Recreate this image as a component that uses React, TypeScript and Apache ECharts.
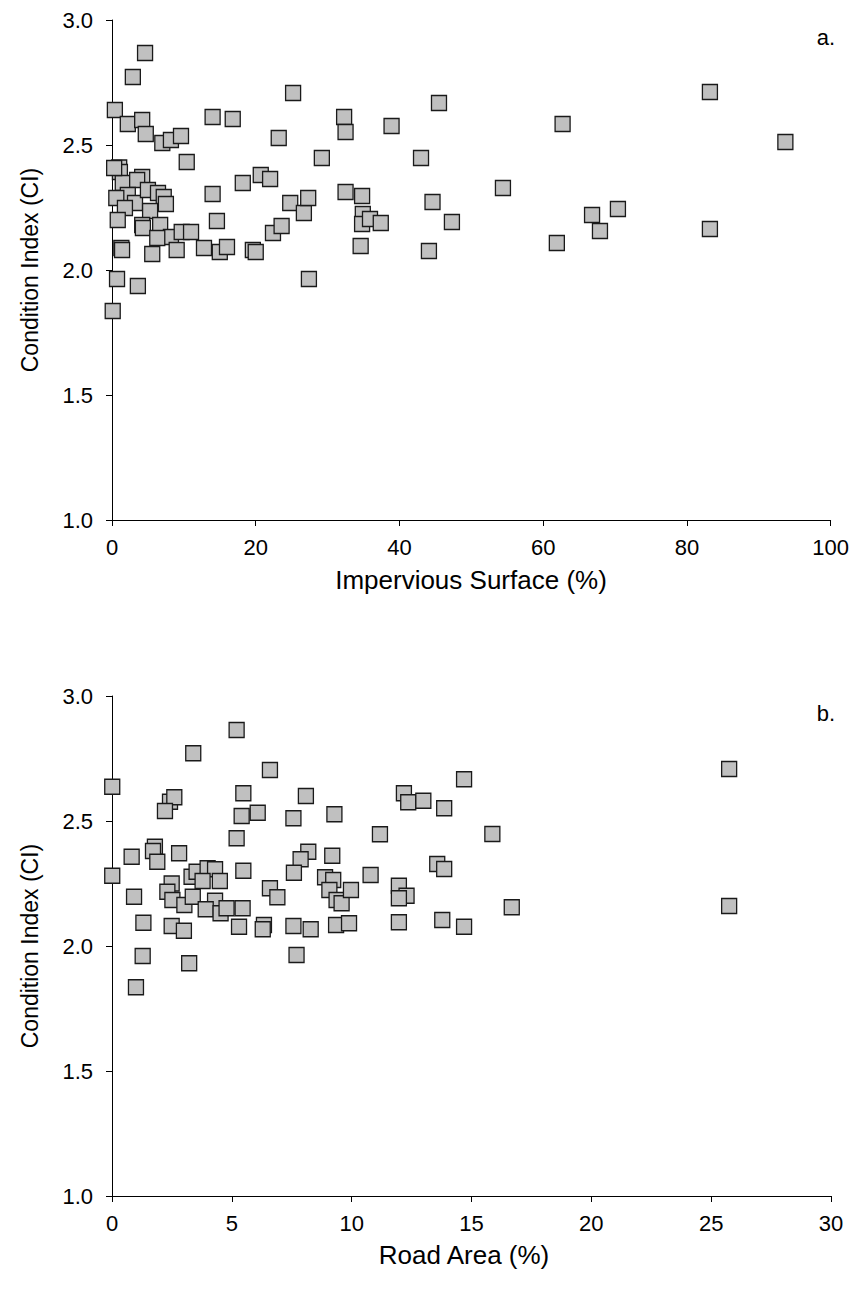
import React, { useEffect, useRef } from "react";
import * as echarts from "echarts";

// Panel a: Impervious Surface (%) vs Condition Index (CI)
const imperviousPct = [
  4.6, 2.9, 0.4, 2.2, 4.2, 4.7, 7.0, 8.2, 9.6, 10.4, 14.0, 16.8, 25.2, 23.2, 29.2, 32.3, 32.5, 38.9, 45.5, 62.7, 43.0, 83.2, 93.7, 54.4,
  1.0, 1.1, 1.5, 4.2, 3.5, 2.2, 0.6, 3.2, 5.0, 6.4, 7.2, 7.5, 1.8, 5.3, 0.8, 4.2, 4.3, 6.7, 8.2, 6.3, 9.7, 11.0, 1.3, 1.4, 5.6, 9.0,
  12.8, 14.0, 14.6, 15.0, 16.0, 18.2, 19.6, 20.0, 20.7, 22.0, 22.4, 23.6, 24.8, 26.7, 27.3, 32.5, 34.8, 34.9, 34.8, 35.9, 37.4, 44.6,
  47.3, 34.6, 44.1, 61.9, 66.8, 67.9, 70.4, 83.2, 0.3,
  0.7, 3.6, 0.1, 27.4,
];
const ciA = [
  2.868, 2.772, 2.64, 2.584, 2.6, 2.544, 2.508, 2.52, 2.536, 2.432, 2.612, 2.604, 2.708, 2.528, 2.448, 2.612, 2.552, 2.576, 2.668, 2.584, 2.448, 2.712, 2.512, 2.328,
  2.41, 2.392, 2.348, 2.372, 2.36, 2.3, 2.288, 2.268, 2.32, 2.308, 2.292, 2.264, 2.248, 2.236, 2.2, 2.18, 2.168, 2.18, 2.132, 2.128, 2.152, 2.152, 2.088, 2.08, 2.064, 2.08,
  2.088, 2.304, 2.196, 2.072, 2.092, 2.348, 2.08, 2.072, 2.38, 2.364, 2.148, 2.176, 2.268, 2.228, 2.288, 2.312, 2.296, 2.224, 2.184, 2.204, 2.188, 2.272,
  2.192, 2.096, 2.076, 2.108, 2.22, 2.156, 2.244, 2.164, 2.408,
  1.964, 1.936, 1.836, 1.964,
];

// Panel b: Road Area (%) vs Condition Index (CI)
const roadPct = [
  5.2, 3.39, 6.59, 0.01, 5.48, 8.09, 2.42, 2.6, 2.21, 5.41, 6.08, 7.57, 9.28, 5.2, 0.82, 1.79, 1.71, 1.89, 2.8, 8.19,
  7.87, 9.19, 0.01, 5.48, 7.59, 0.92, 2.49, 2.31, 2.52, 3.02, 3.37, 3.32, 3.53, 3.99, 4.3, 3.78, 4.5, 4.3, 3.91, 4.53,
  4.78, 5.45, 6.59, 6.9, 5.3, 1.31, 2.49, 3.0, 6.34, 6.29, 7.57, 8.29, 8.89, 9.23, 9.07, 9.37, 9.58, 9.97, 9.35, 9.89,
  14.69, 12.18, 12.36, 12.99, 13.86, 11.18, 15.87, 10.79, 13.57, 13.86, 11.97, 12.29, 11.97, 16.68, 11.97, 13.78, 14.69,
  25.75, 25.75, 1.0, 1.28, 3.22, 7.7,
];
const ciB = [
  2.864, 2.771, 2.704, 2.637, 2.611, 2.6, 2.577, 2.595, 2.54, 2.52, 2.533, 2.511, 2.527, 2.431, 2.357, 2.397, 2.38, 2.337, 2.371, 2.377,
  2.347, 2.361, 2.281, 2.301, 2.293, 2.197, 2.25, 2.217, 2.184, 2.164, 2.197, 2.277, 2.297, 2.311, 2.307, 2.26, 2.26, 2.181, 2.147, 2.131,
  2.151, 2.151, 2.231, 2.195, 2.077, 2.093, 2.08, 2.061, 2.084, 2.067, 2.08, 2.067, 2.275, 2.264, 2.224, 2.184, 2.171, 2.224, 2.084, 2.091,
  2.667, 2.611, 2.575, 2.581, 2.551, 2.447, 2.448, 2.284, 2.328, 2.308, 2.241, 2.201, 2.191, 2.155, 2.095, 2.104, 2.077,
  2.708, 2.16, 1.835, 1.96, 1.931, 1.964,
];

const yTicks = { min: 1, max: 3, interval: 0.5 };
const xTicksA = { min: 0, max: 100, interval: 20 };
const xTicksB = { min: 0, max: 30, interval: 5 };

const FONT = "Liberation Sans";

export default function App() {
  const ref = useRef<HTMLDivElement>(null);
  useEffect(() => {
    document.body.style.margin = "0";
    const chart = echarts.init(ref.current!, null, { renderer: "svg" });
    const axisLine = { show: true, lineStyle: { color: "#000", width: 1 } };
    const axisTick = { show: true, inside: false, length: 6, lineStyle: { color: "#000", width: 1 } };
    const labelStyle = { color: "#000", fontFamily: FONT, fontSize: 22 };
    const mkY = (gi: number) => ({
      type: "value",
      gridIndex: gi,
      ...yTicks,
      axisLine,
      axisTick,
      splitLine: { show: false },
      axisLabel: { ...labelStyle, margin: 19, formatter: (v: number) => v.toFixed(1) },
    });
    const mkX = (gi: number, t: any) => ({
      type: "value",
      gridIndex: gi,
      ...t,
      axisLine: { ...axisLine, onZero: false },
      axisTick,
      splitLine: { show: false },
      axisLabel: { ...labelStyle, margin: 16 },
    });
    const marker = {
      symbol: "rect",
      symbolSize: 15,
      itemStyle: { color: "#c0c0c0", borderColor: "#1a1a1a", borderWidth: 1.3, opacity: 1 },
    };
    chart.setOption({
      animation: false,
      backgroundColor: "#fff",
      grid: [
        { left: 112, top: 20, width: 719, height: 500 },
        { left: 112, top: 696, width: 719, height: 500 },
      ],
      xAxis: [mkX(0, xTicksA), mkX(1, xTicksB)],
      yAxis: [mkY(0), mkY(1)],
      series: [
        {
          type: "scatter",
          xAxisIndex: 0,
          yAxisIndex: 0,
          data: imperviousPct.map((x, i) => [x, ciA[i]]),
          ...marker,
        },
        {
          type: "scatter",
          xAxisIndex: 1,
          yAxisIndex: 1,
          data: roadPct.map((x, i) => [x, ciB[i]]),
          ...marker,
        },
      ],
      graphic: [
        { type: "text", x: 30, y: 270, rotation: Math.PI / 2, style: { text: "Condition Index (CI)", fill: "#000", font: `23px '${FONT}'`, align: "center", verticalAlign: "middle" } },
        { type: "text", x: 30, y: 946, rotation: Math.PI / 2, style: { text: "Condition Index (CI)", fill: "#000", font: `23px '${FONT}'`, align: "center", verticalAlign: "middle" } },
        { type: "text", x: 471, y: 580, style: { text: "Impervious Surface (%)", fill: "#000", font: `26px '${FONT}'`, align: "center", verticalAlign: "middle" } },
        { type: "text", x: 464, y: 1255, style: { text: "Road Area (%)", fill: "#000", font: `26px '${FONT}'`, align: "center", verticalAlign: "middle" } },
        { type: "text", x: 826, y: 37, style: { text: "a.", fill: "#000", font: `22px '${FONT}'`, align: "center", verticalAlign: "middle" } },
        { type: "text", x: 826, y: 713, style: { text: "b.", fill: "#000", font: `22px '${FONT}'`, align: "center", verticalAlign: "middle" } },
      ],
    });
    return () => chart.dispose();
  }, []);
  return <div ref={ref} style={{ width: 852, height: 1289 }} />;
}
